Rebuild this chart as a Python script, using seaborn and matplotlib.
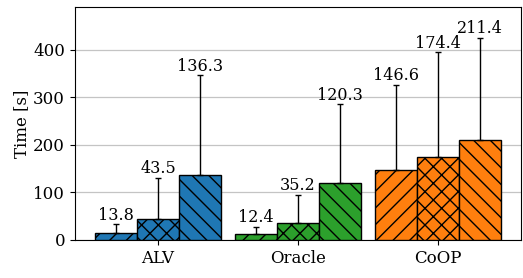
import numpy as np
import pandas as pd
import seaborn as sns
import matplotlib
matplotlib.use("Agg")
import matplotlib.pyplot as plt

plt.rcParams['font.family'] = ['DejaVu Serif']
plt.rcParams['font.size'] = 12
plt.rcParams['hatch.linewidth'] = 1.0

methods = ['ALV', 'Oracle', 'CoOP']
variants = ['v1', 'v2', 'v3']
means = {
    'ALV': [13.8, 43.5, 136.3],
    'Oracle': [12.4, 35.2, 120.3],
    'CoOP': [146.6, 174.4, 211.4],
}
errs = {
    'ALV': [19.2, 87.1, 210.3],
    'Oracle': [15.6, 59.1, 165.5],
    'CoOP': [179.8, 220.4, 214.6],
}
colors = {'ALV': '#1f77b4', 'Oracle': '#2ca02c', 'CoOP': '#ff7f0e'}
hatches = ['//', 'xx', '\\\\']

rows = []
for m in methods:
    for v, val in zip(variants, means[m]):
        rows.append({'method': m, 'variant': v, 'time': val})
df = pd.DataFrame(rows)

fig, ax = plt.subplots(figsize=(5.23, 2.78), dpi=100)
sns.barplot(data=df, x='method', y='time', hue='variant', order=methods,
            hue_order=variants, width=0.9, errorbar=None, legend=False,
            edgecolor='black', linewidth=1.0, ax=ax, zorder=3)

bar_conts = list(ax.containers)
for j, cont in enumerate(bar_conts):
    for i, bar in enumerate(cont):
        m = methods[i]
        bar.set_facecolor(colors[m])
        bar.set_hatch(hatches[j])
        bar.set_edgecolor('black')
        xc = bar.get_x() + bar.get_width() / 2
        h = bar.get_height()
        e = errs[m][j]
        ax.errorbar(xc, h, yerr=[[0], [e]], fmt='none', ecolor='black',
                    elinewidth=1.0, capsize=2.5, capthick=1.0, zorder=4)
        ax.annotate(f'{h:.1f}', (xc, h + e), xytext=(0, 0.5),
                    textcoords='offset points', ha='center', va='bottom',
                    fontsize=11.5)

ax.set_ylim(0, 490)
ax.set_yticks([0, 100, 200, 300, 400])
ax.yaxis.grid(True, color='#c4c4c4', linewidth=0.9, zorder=0)
ax.set_axisbelow(True)
ax.set_xlabel('')
ax.set_ylabel('Time [s]', labelpad=2)
plt.subplots_adjust(left=0.143, right=0.996, bottom=0.137, top=0.974)
plt.savefig('out.png', dpi=100)
